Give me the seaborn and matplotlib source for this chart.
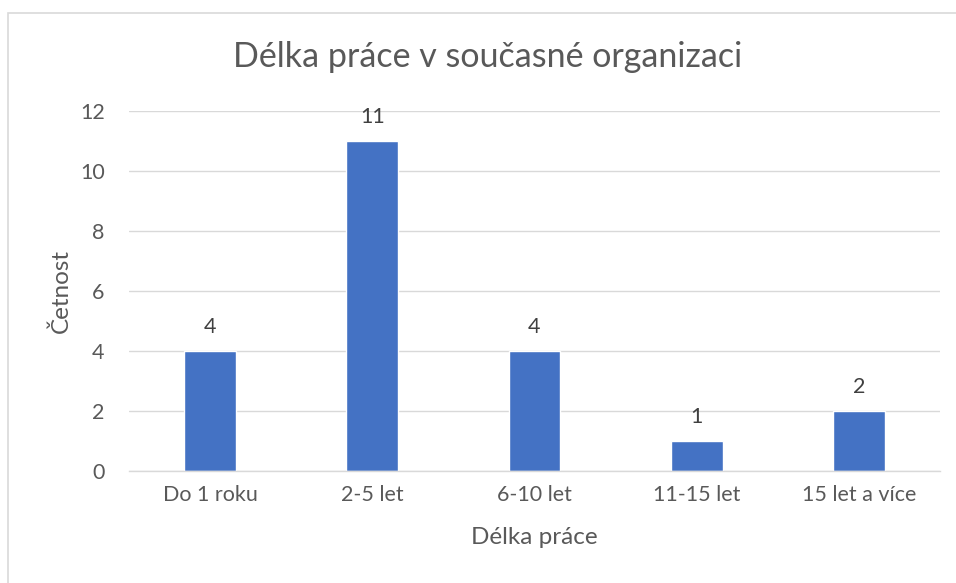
import matplotlib
matplotlib.use("Agg")
import matplotlib.pyplot as plt
import seaborn as sns
import pandas as pd
from matplotlib.patches import Rectangle

categories = ["Do 1 roku", "2-5 let", "6-10 let", "11-15 let", "15 let a více"]
values = [4, 11, 4, 1, 2]
yticks = [0, 2, 4, 6, 8, 10, 12]

sns.set_theme(style="white")
plt.rcParams['font.family'] = ['Lato', 'DejaVu Sans']
txt = "#595959"

df = pd.DataFrame({"cat": categories, "val": values})
fig = plt.figure(figsize=(9.56, 5.83), dpi=100)
ax = fig.add_axes([129/956, 1-471/583, (940-129)/956, (471-111)/583])
sns.barplot(data=df, x="cat", y="val", color="#4472C4", width=0.32, ax=ax, saturation=1)

ax.set_ylim(0, 12)
ax.set_yticks(yticks)
ax.set_yticklabels([str(t) for t in yticks])
ax.grid(axis="y", color="#d9d9d9", linewidth=1)
ax.set_axisbelow(True)
for s in ["top", "right", "left"]:
    ax.spines[s].set_visible(False)
ax.spines["bottom"].set_color("#d9d9d9")
ax.spines["bottom"].set_linewidth(1)
ax.tick_params(axis="both", length=0, labelsize=15.5, colors=txt, pad=10)
ax.tick_params(axis="y", pad=17.5)
ax.set_xlabel("Délka práce", fontsize=17.5, color=txt, labelpad=16)
ax.set_ylabel("Četnost", fontsize=17.5, color=txt, labelpad=6)
for c in ax.containers:
    ax.bar_label(c, fontsize=15.5, color="#404040", padding=10)

fig.text(488/956, 1-57/583, "Délka práce v současné organizaci", ha="center", va="center", fontsize=24.5, color=txt)
fig.patches.append(Rectangle((8/956, -0.2), 1.2, 1.2 - 13/583, transform=fig.transFigure,
                             fill=False, edgecolor="#d9d9d9", linewidth=1.2, figure=fig))
fig.savefig("out.png", dpi=100)
